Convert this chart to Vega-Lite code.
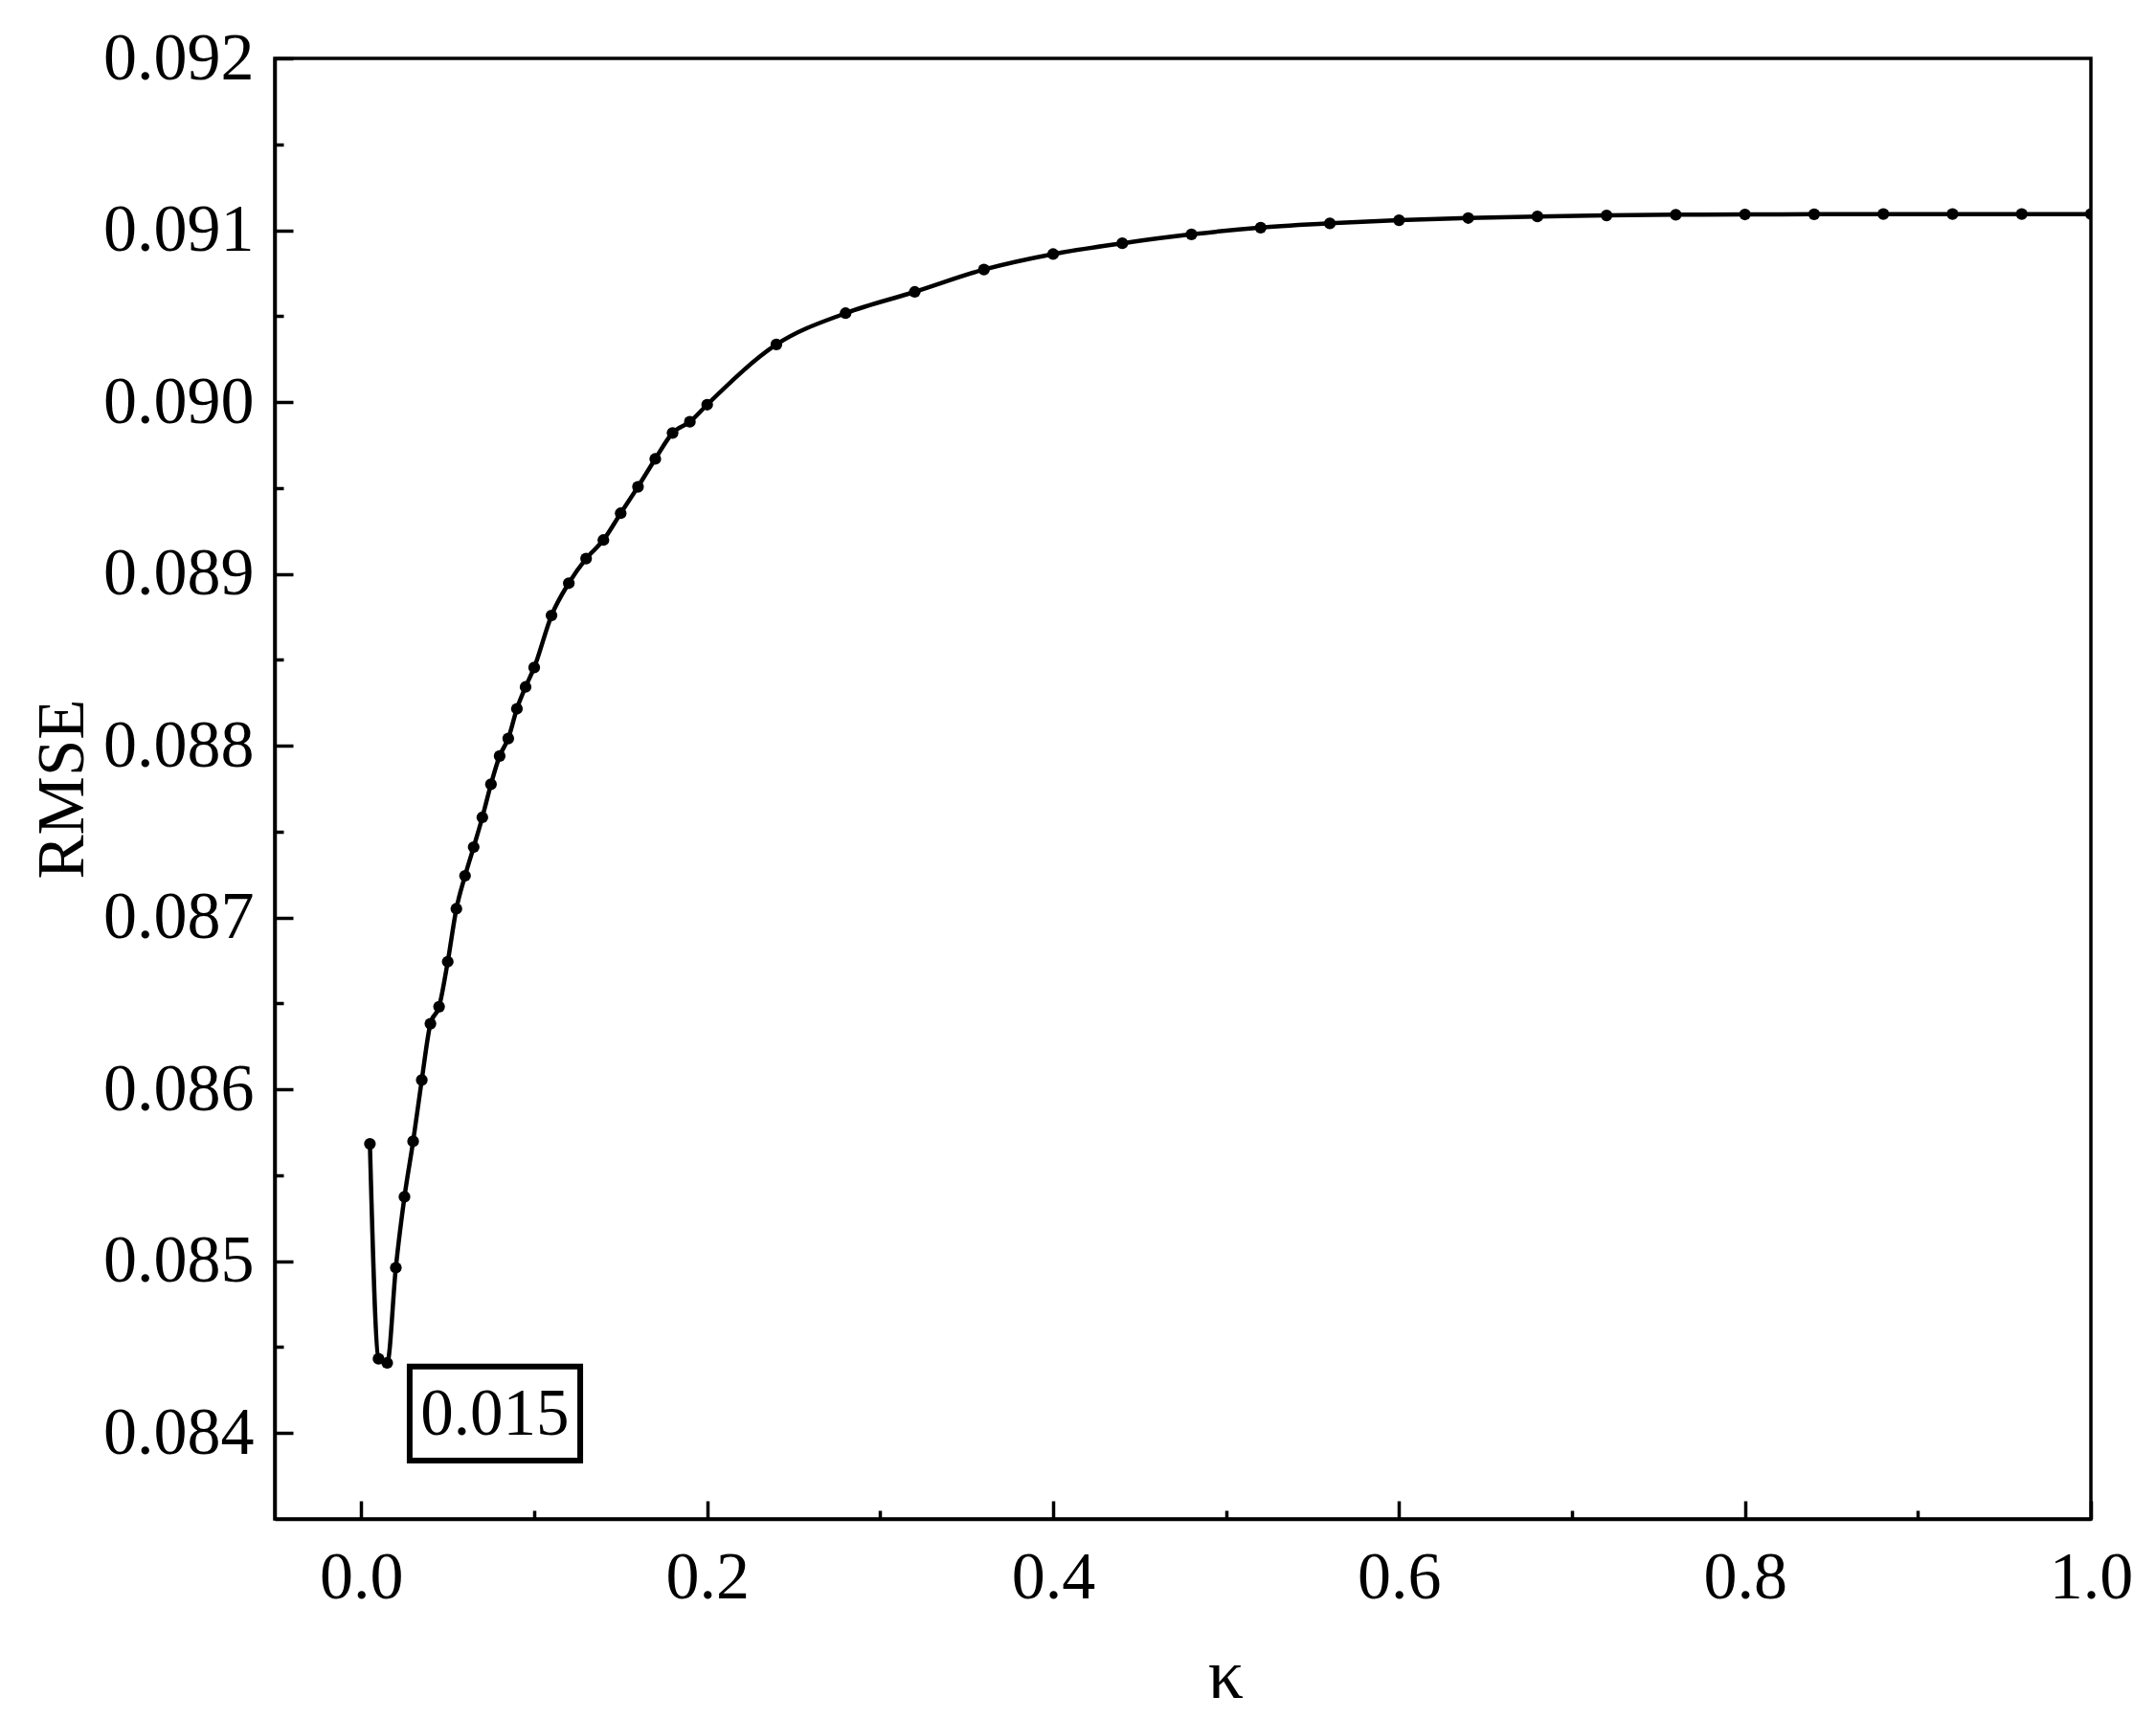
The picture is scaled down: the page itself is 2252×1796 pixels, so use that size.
{
  "$schema": "https://vega.github.io/schema/vega-lite/v6.json",
  "width": 1897,
  "height": 1526,
  "autosize": {"type": "none"},
  "padding": {"left": 287, "top": 61, "right": 68, "bottom": 209},
  "background": "white",
  "config": {
    "view": {"stroke": "black", "strokeWidth": 3.5},
    "font": "Liberation Serif",
    "axis": {"grid": false, "labelFont": "Liberation Serif", "titleFont": "Liberation Serif", "labelColor": "black", "titleColor": "black", "domainColor": "black", "tickColor": "black", "labelFlush": false, "labelOverlap": false, "labelBound": false, "titleFontWeight": "normal"}
  },
  "datasets": {
    "rmse": [
      {"k": 0.005, "rmse": 0.085683},
      {"k": 0.010, "rmse": 0.084432},
      {"k": 0.015, "rmse": 0.084408},
      {"k": 0.020, "rmse": 0.084962},
      {"k": 0.025, "rmse": 0.085375},
      {"k": 0.030, "rmse": 0.085698},
      {"k": 0.035, "rmse": 0.086055},
      {"k": 0.040, "rmse": 0.086382},
      {"k": 0.045, "rmse": 0.086481},
      {"k": 0.050, "rmse": 0.086743},
      {"k": 0.055, "rmse": 0.087051},
      {"k": 0.060, "rmse": 0.087243},
      {"k": 0.065, "rmse": 0.087410},
      {"k": 0.070, "rmse": 0.087583},
      {"k": 0.075, "rmse": 0.087776},
      {"k": 0.080, "rmse": 0.087940},
      {"k": 0.085, "rmse": 0.088042},
      {"k": 0.090, "rmse": 0.088215},
      {"k": 0.095, "rmse": 0.088342},
      {"k": 0.100, "rmse": 0.088455},
      {"k": 0.110, "rmse": 0.088758},
      {"k": 0.120, "rmse": 0.088946},
      {"k": 0.130, "rmse": 0.089089},
      {"k": 0.140, "rmse": 0.089197},
      {"k": 0.150, "rmse": 0.089353},
      {"k": 0.160, "rmse": 0.089507},
      {"k": 0.170, "rmse": 0.089669},
      {"k": 0.180, "rmse": 0.089820},
      {"k": 0.190, "rmse": 0.089885},
      {"k": 0.200, "rmse": 0.089985},
      {"k": 0.240, "rmse": 0.090335},
      {"k": 0.280, "rmse": 0.090517},
      {"k": 0.320, "rmse": 0.090641},
      {"k": 0.360, "rmse": 0.090771},
      {"k": 0.400, "rmse": 0.090861},
      {"k": 0.440, "rmse": 0.090924},
      {"k": 0.480, "rmse": 0.090976},
      {"k": 0.520, "rmse": 0.091015},
      {"k": 0.560, "rmse": 0.091040},
      {"k": 0.600, "rmse": 0.091058},
      {"k": 0.640, "rmse": 0.091071},
      {"k": 0.680, "rmse": 0.091080},
      {"k": 0.720, "rmse": 0.091086},
      {"k": 0.760, "rmse": 0.091090},
      {"k": 0.800, "rmse": 0.091092},
      {"k": 0.840, "rmse": 0.091093},
      {"k": 0.880, "rmse": 0.091094},
      {"k": 0.920, "rmse": 0.091094},
      {"k": 0.960, "rmse": 0.091094},
      {"k": 1.000, "rmse": 0.091094}
    ],
    "note": [
      {"label": "0.015", "x0": 0.028, "x1": 0.1266, "y0": 0.084387, "y1": 0.08384, "tx": 0.0773, "ty": 0.08399}
    ]
  },
  "layer": [
    {
      "data": {"name": "rmse"},
      "mark": {"type": "line", "color": "black", "strokeWidth": 4.5, "interpolate": "monotone", "clip": true},
      "encoding": {
        "x": {"field": "k", "type": "quantitative", "scale": {"domain": [-0.05, 1.0], "nice": false, "zero": false},
          "axis": {"orient": "bottom", "values": [0, 0.2, 0.4, 0.6, 0.8, 1.0], "format": ".1f", "tickSize": -19, "tickWidth": 3.5, "domainWidth": 3.5, "labelFontSize": 70, "labelPadding": 46, "title": "κ", "titleFontSize": 74, "titleX": 993, "titleY": 186, "titleBaseline": "alphabetic", "titleAnchor": null}},
        "y": {"field": "rmse", "type": "quantitative", "scale": {"domain": [0.0835, 0.092], "nice": false, "zero": false},
          "axis": {"orient": "left", "values": [0.084, 0.085, 0.086, 0.087, 0.088, 0.089, 0.090, 0.091, 0.092], "format": ".3f", "tickSize": -19, "tickWidth": 3.5, "domainWidth": 3.5, "labelFontSize": 70, "labelPadding": 41, "title": "RMSE", "titleFontSize": 69, "titleX": -222, "titleY": 763, "titleAngle": -90, "titleBaseline": "middle", "titleAlign": "center"}}
      }
    },
    {
      "data": {"name": "rmse"},
      "mark": {"type": "point", "filled": true, "fill": "black", "stroke": null, "opacity": 1, "size": 150, "clip": true},
      "encoding": {
        "x": {"field": "k", "type": "quantitative",
          "axis": {"orient": "bottom", "values": [0.1, 0.3, 0.5, 0.7, 0.9], "labels": false, "domain": false, "tickSize": -9, "tickWidth": 3.5, "title": null}},
        "y": {"field": "rmse", "type": "quantitative",
          "axis": {"orient": "left", "values": [0.0845, 0.0855, 0.0865, 0.0875, 0.0885, 0.0895, 0.0905, 0.0915], "labels": false, "domain": false, "tickSize": -9, "tickWidth": 3.5, "title": null}}
      }
    },
    {
      "data": {"name": "note"},
      "mark": {"type": "rect", "fill": null, "stroke": "black", "strokeWidth": 6},
      "encoding": {
        "x": {"field": "x0", "type": "quantitative", "axis": null},
        "x2": {"field": "x1"},
        "y": {"field": "y0", "type": "quantitative", "axis": null},
        "y2": {"field": "y1"}
      }
    },
    {
      "data": {"name": "note"},
      "mark": {"type": "text", "font": "Liberation Serif", "fontSize": 69, "fontWeight": "normal", "fill": "black", "align": "center", "baseline": "alphabetic"},
      "encoding": {
        "text": {"field": "label"},
        "x": {"field": "tx", "type": "quantitative", "axis": null},
        "y": {"field": "ty", "type": "quantitative", "axis": null}
      }
    }
  ],
  "resolve": {"axis": {"x": "independent", "y": "independent"}}
}
